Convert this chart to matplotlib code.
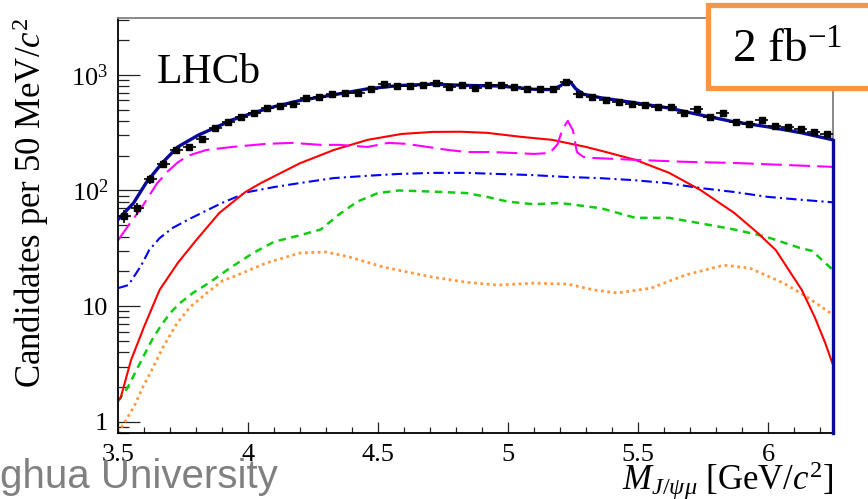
import numpy as np
import matplotlib
matplotlib.use("Agg")
import matplotlib.pyplot as plt
from matplotlib.patches import Rectangle
from matplotlib.ticker import FixedLocator, MultipleLocator, LogLocator, NullFormatter, FixedFormatter

plt.rcParams['font.family'] = ['Liberation Serif', 'DejaVu Serif']
plt.rcParams['mathtext.fontset'] = 'custom'
plt.rcParams['mathtext.rm'] = 'Liberation Serif'
plt.rcParams['mathtext.it'] = 'Liberation Serif:italic'
plt.rcParams['mathtext.bf'] = 'Liberation Serif:bold'

# data: candidates per 50 MeV bin, 3.5 - 6.25 GeV
bin_lo, bin_hi, bin_w = 3.5, 6.25, 0.05
data_y = [60, 70, 126, 170, 224, 238, 279, 347, 392, 433,
          469, 518, 539, 560, 632, 645, 685, 699, 699, 757,
          836, 803, 803, 819, 853, 787, 819, 771, 819, 819,
          787, 757, 757, 757, 869, 685, 645, 608, 583, 561,
          550, 528, 528, 469, 508, 433, 469, 392, 377, 408,
          362, 355, 341, 321, 308]

# total fit
fit_x = [3.50, 3.56, 3.61, 3.67, 3.73, 3.81, 3.88, 3.94, 4.02, 4.10,
         4.20, 4.33, 4.46, 4.585, 4.71, 4.84, 4.97, 5.10, 5.17, 5.20,
         5.22, 5.24, 5.26, 5.29, 5.36, 5.49, 5.615, 5.74, 5.87, 6.00,
         6.13, 6.25]
fit_y = [56, 78, 118, 173, 238, 302, 354, 408, 469, 530,
         600, 672, 757, 810, 830, 810, 800, 750, 745, 800,
         860, 869, 760, 680, 632, 572, 518, 450, 392, 355,
         315, 274]

# long-dashed magenta component
mag_x = [3.50, 3.546, 3.585, 3.62, 3.65, 3.69, 3.73, 3.77, 3.84, 3.94,
         4.07, 4.17, 4.28, 4.35, 4.46, 4.54, 4.61, 4.69, 4.77, 4.84,
         4.94, 5.02, 5.10, 5.16, 5.19, 5.21, 5.23, 5.25, 5.265, 5.29,
         5.33, 5.49, 5.68, 5.87, 6.07, 6.25]
mag_y = [37, 52, 68, 90, 115, 145, 175, 200, 224, 238,
         253, 258, 248, 248, 238, 258, 253, 238, 224, 215,
         215, 211, 207, 211, 250, 340, 400, 330, 215, 195,
         191, 184, 177, 173, 166, 160]

# solid red component
red_x = [3.50, 3.51, 3.55, 3.60, 3.66, 3.73, 3.80, 3.89, 3.99, 4.05,
         4.20, 4.33, 4.46, 4.59, 4.71, 4.82, 4.92, 5.05, 5.17, 5.30,
         5.36, 5.49, 5.62, 5.74, 5.87, 5.96, 6.03, 6.08, 6.13, 6.18,
         6.22, 6.25]
red_y = [1.55, 1.6, 3.4, 6.6, 13.8, 23.6, 37, 64, 97, 116,
         172, 224, 274, 308, 321, 322, 315, 291, 274, 238,
         220, 184, 142, 101, 64, 43, 30.5, 20.5, 13.8, 8.0,
         4.8, 3.1]

# dash-dotted blue component
blu_x = [3.50, 3.54, 3.565, 3.59, 3.62, 3.66, 3.71, 3.77, 3.84, 3.90,
         4.00, 4.10, 4.20, 4.33, 4.46, 4.58, 4.71, 4.84, 4.96, 5.09,
         5.22, 5.35, 5.48, 5.61, 5.74, 5.87, 6.00, 6.13, 6.25]
blu_y = [14.3, 15.2, 18.5, 22.6, 30.5, 38.7, 47.4, 56, 67, 78,
         97, 107, 116, 128, 134, 139, 142, 142, 139, 136,
         131, 128, 123, 116, 105, 97, 88, 83, 79]

# dashed green component
grn_x = [3.50, 3.538, 3.565, 3.596, 3.631, 3.662, 3.70, 3.738, 3.788, 3.854,
         3.93, 4.02, 4.10, 4.20, 4.28, 4.35, 4.42, 4.50, 4.58, 4.70,
         4.84, 4.92, 5.00, 5.10, 5.20, 5.30, 5.36, 5.49, 5.62, 5.74,
         5.87, 5.99, 6.12, 6.17, 6.25]
grn_y = [1.5, 1.99, 2.63, 3.6, 5.1, 6.6, 8.7, 10.6, 13.0, 16.1,
         21.3, 28.8, 36, 41, 46, 62, 80, 95, 100, 98,
         95, 88, 80, 76, 78, 73, 70, 58, 58, 52,
         46, 40, 32, 30, 20.5]

# dotted orange component
org_x = [3.50, 3.535, 3.565, 3.596, 3.635, 3.673, 3.727, 3.777, 3.842, 3.904,
         3.94, 4.07, 4.20, 4.30, 4.39, 4.52, 4.71, 4.84, 4.96, 5.10,
         5.23, 5.33, 5.42, 5.55, 5.68, 5.83, 5.93, 6.06, 6.15, 6.25]
org_y = [0.80, 1.07, 1.4, 2.0, 2.95, 4.4, 7.1, 9.8, 13.0, 16.7,
         17.8, 23.6, 28.8, 29.4, 26.6, 21.8, 17.8, 16.1, 15.2, 15.8,
         15.5, 13.8, 13.0, 14.3, 18.5, 22.6, 21.3, 15.8, 12.0, 8.4]

ylo, yhi = 0.8, 3100
ytick_vals = [1, 10, 100, 1000]
ytick_text = ['1', '10', '$10^2$', '$10^3$']
xtick_vals = [3.5, 4, 4.5, 5, 5.5, 6]
xtick_text = ['3.5', '4', '4.5', '5', '5.5', '6']

fig = plt.figure(figsize=(8.68, 4.99), dpi=100)
ax = fig.add_axes([0.1359, 0.1323, 0.8238, 0.8316])
ax.set_yscale('log')
ax.set_xlim(bin_lo, bin_hi)
ax.set_ylim(ylo, yhi)

ax.plot(org_x, org_y, color='#ff9a40', lw=2.0, dashes=(1.0, 1.3))
ax.plot(grn_x, grn_y, color='#10cc10', lw=1.8, dashes=(3.0, 2.2))
ax.plot(blu_x, blu_y, color='#0000ff', lw=1.5, dashes=(5, 2, 1, 2))
ax.plot(red_x, red_y, color='#ff0000', lw=1.5)
ax.plot(mag_x, mag_y, color='#ff00ff', lw=1.5, dashes=(10, 3.5))

ax.plot(fit_x, fit_y, color='#0a0a9a', lw=2.4, zorder=4)
ax.plot([fit_x[-1], fit_x[-1]], [fit_y[-1], ylo], color='#0a0a9a', lw=2.4, zorder=4, clip_on=False)

centers = np.arange(bin_lo + bin_w / 2, bin_hi, bin_w)
dy = np.sqrt(np.array(data_y, dtype=float))
ax.errorbar(centers, data_y, xerr=bin_w / 2, yerr=dy, fmt='s', color='black',
            ms=4, elinewidth=1.2, capsize=0, zorder=5)

# ticks in ROOT style
ax.yaxis.set_major_locator(FixedLocator(ytick_vals))
ax.yaxis.set_major_formatter(FixedFormatter(ytick_text))
ax.yaxis.set_minor_locator(LogLocator(base=10, subs=range(2, 10)))
ax.yaxis.set_minor_formatter(NullFormatter())
ax.xaxis.set_major_locator(FixedLocator(xtick_vals))
ax.xaxis.set_major_formatter(FixedFormatter(xtick_text))
ax.xaxis.set_minor_locator(MultipleLocator(0.1))
ax.tick_params(axis='y', which='major', direction='in', length=16, width=0.9, labelsize=19, pad=7, color='#222222')
ax.tick_params(axis='y', which='minor', direction='in', length=8, width=0.9, color='#222222')
ax.tick_params(axis='x', which='major', direction='in', length=8, width=0.9, labelsize=19, pad=8, color='#222222')
ax.tick_params(axis='x', which='minor', direction='in', length=4, width=0.9, color='#222222')
ax.tick_params(top=False, right=False, which='both')

for s in ['left', 'bottom']:
    ax.spines[s].set_color('black')
    ax.spines[s].set_linewidth(1.3)
for s in ['top', 'right']:
    ax.spines[s].set_color('#808080')
    ax.spines[s].set_linewidth(1.3)

ax.text(0.0545, 0.843, 'LHCb', transform=ax.transAxes, fontsize=30, va='baseline')

fig.text(0.035, 0.964, 'Candidates per 50 MeV/$c^2$', rotation=90, fontsize=25,
         ha='center', va='top')
fig.text(0.96, 0.018, r'$M_{J/\psi\mu}$ [GeV/$c^2$]', fontsize=25, ha='right', va='baseline')

# slide overlay: luminosity box and footer
box = Rectangle((0.8157, 0.8236), 0.25, 0.1663, transform=fig.transFigure,
                facecolor='white', edgecolor='#f79646', lw=3.8, zorder=10)
fig.add_artist(box)
fig.text(0.843, 0.874, '2 fb$^{-1}$', fontsize=34, zorder=11)
fig.text(0.0, 0.022, 'ghua University', fontsize=29, color='#808080',
         family=['Liberation Sans', 'DejaVu Sans'])

fig.savefig('out.png', dpi=100)
